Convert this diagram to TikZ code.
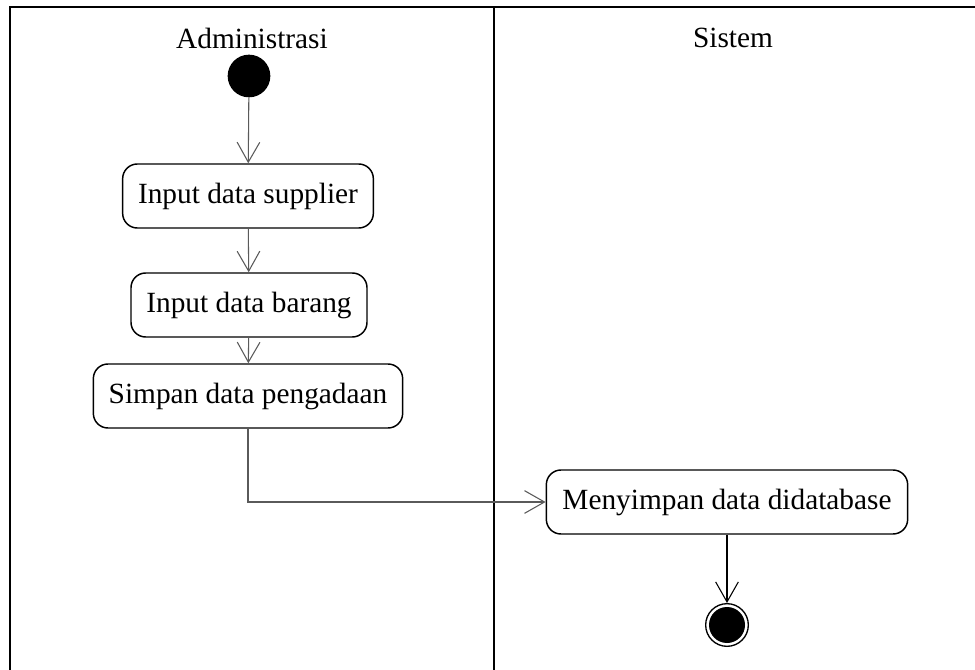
\documentclass[tikz,border=0pt]{standalone}
\usepackage{fontspec}
\setmainfont{Liberation Serif}
\usepackage{tikz}
\usetikzlibrary{arrows.meta,calc,positioning,shapes}
\tikzset{
  actnode/.style = {draw, black, line width=1.1pt, rounded corners=11pt, fill=white,
  align=center, inner xsep=10pt, minimum height=48pt, font=\fontsize{22}{26}\selectfont},
  act_s/.style = {actnode},
  act_l/.style = {actnode, inner xsep=8pt},
  lanetitle/.style = {font=\fontsize{22}{26}\selectfont}
}
\definecolor{my_gray}{RGB}{90, 90, 90}

\begin{document}
\begin{tikzpicture}[x=0.75pt,y=-0.75pt,
        flow/.style={draw=my_gray, line width=0.8pt, -{Straight Barb[length=15pt,width=17pt,line width=0.8pt]}},
        lane/.style={line width=2.2pt},
        initial/.style={circle, fill=black, inner sep=0pt, minimum size=32pt},
        final/.style={circle, draw, line width=1pt, inner sep=0pt, minimum size=32pt,
          path picture={\fill (path picture bounding box.center) circle (13.5pt);}}]
        \useasboundingbox (0,0) rectangle (975,670);
        % swimlanes
        \draw[lane] (10,670) -- (10,7) -- (975,7);
        \draw[lane] (494,7) -- (494,670);
        \node [lanetitle] (admin) at (252,38) {Administrasi};
        \node [lanetitle] (sistem) at (733,38) {Sistem};
        % activities
        \node [initial] (start) at (249,76) {};
        \node [act_s, minimum width=188pt] (supplier) at (248,196) {Input data supplier};
        \node [act_s, minimum width=177pt] (barang) at (249,305) {Input data barang};
        \node [act_s, minimum width=232pt] (simpan) at (248,396) {Simpan data pengadaan};
        \node [act_l, minimum width=271pt] (db) at (727,502) {Menyimpan data didatabase};
        \node [final] (stop) at (727,625) {};
        % flows
        \draw[flow] (start) -- (supplier);
        \draw[flow] (supplier) -- (barang);
        \draw[flow] (barang) -- (simpan);
        \draw[flow] (simpan.south) |- (db.west);
        \draw[flow, draw=black] (db) -- (stop);
\end{tikzpicture}
\end{document}
